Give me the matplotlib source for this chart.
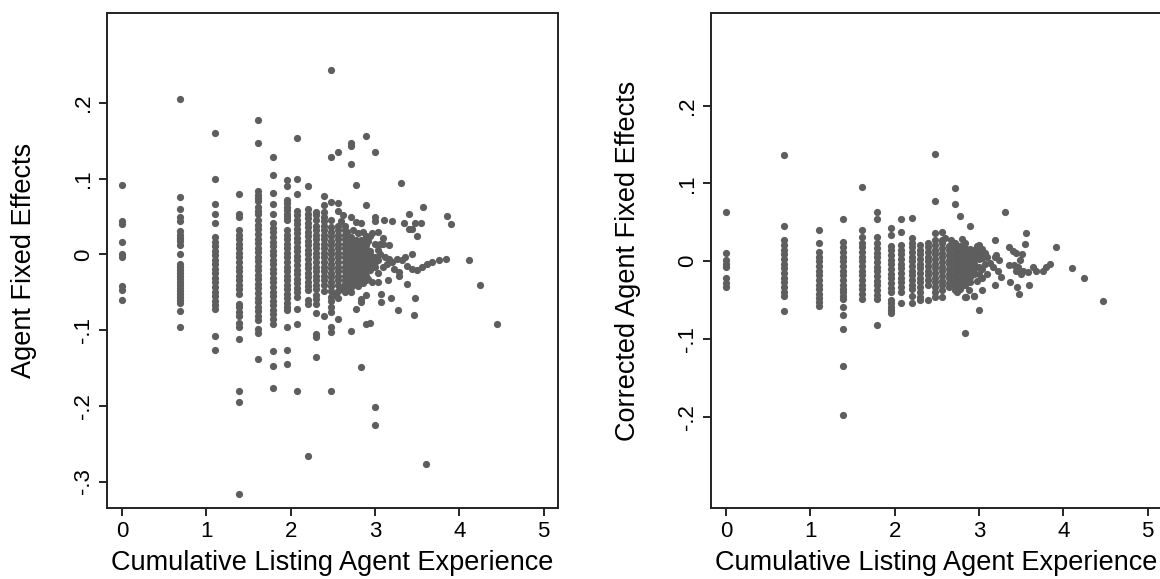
import matplotlib
matplotlib.use("Agg")
import matplotlib.pyplot as plt

plt.rcParams["font.family"] = ["Liberation Sans", "DejaVu Sans"]

# log cumulative listings for the agent columns (1, 2, 3, ... 20 listings)
experience = [0.00, 0.69, 1.10, 1.39, 1.61, 1.79, 1.95, 2.08, 2.20, 2.30,
              2.40, 2.48, 2.56, 2.64, 2.71, 2.77, 2.83, 2.89, 2.94, 3.00]

# agent fixed effects, one list per experience column
fixed_effects = [
    [0.092, 0.044, 0.040, 0.016, 0.000, -0.004, -0.042, -0.047, -0.060],
    [0.205, 0.076, 0.060, 0.049, 0.044, 0.031, 0.026, 0.022, 0.018, 0.012, 0.001, -0.012, -0.016,
     -0.020, -0.024, -0.028, -0.032, -0.036, -0.040, -0.044, -0.048, -0.052, -0.056, -0.060, -0.064,
     -0.075, -0.096],
    [0.161, 0.099, 0.067, 0.053, 0.041, 0.023, 0.017, 0.011, 0.005, -0.001, -0.007, -0.013, -0.019,
     -0.025, -0.031, -0.037, -0.043, -0.049, -0.055, -0.061, -0.067, -0.072, -0.108, -0.126],
    [0.080, 0.054, 0.049, 0.032, 0.026, 0.020, 0.014, 0.008, 0.002, -0.004, -0.010, -0.016, -0.022,
     -0.028, -0.034, -0.040, -0.046, -0.052, -0.065, -0.070, -0.076, -0.081, -0.090, -0.096, -0.112,
     -0.181, -0.195, -0.317],
    [0.177, 0.147, 0.084, 0.079, 0.075, 0.070, 0.063, 0.057, 0.053, 0.045, 0.039, 0.033, 0.027,
     0.021, 0.015, 0.009, 0.003, -0.003, -0.009, -0.015, -0.021, -0.027, -0.033, -0.039, -0.045,
     -0.051, -0.057, -0.063, -0.069, -0.075, -0.081, -0.087, -0.098, -0.104, -0.138],
    [0.129, 0.105, 0.081, 0.067, 0.053, 0.041, 0.035, 0.029, 0.023, 0.017, 0.011, 0.005, -0.001,
     -0.007, -0.013, -0.019, -0.025, -0.031, -0.037, -0.043, -0.049, -0.055, -0.061, -0.067, -0.073,
     -0.079, -0.085, -0.092, -0.128, -0.147, -0.177],
    [0.098, 0.091, 0.072, 0.068, 0.063, 0.059, 0.054, 0.049, 0.045, 0.032, 0.026, 0.020, 0.014,
     0.008, 0.002, -0.004, -0.010, -0.016, -0.022, -0.028, -0.034, -0.040, -0.046, -0.052, -0.058,
     -0.064, -0.070, -0.073, -0.096, -0.126, -0.145],
    [0.154, 0.099, 0.080, 0.058, 0.052, 0.046, 0.040, 0.034, 0.028, 0.022, 0.016, 0.010, 0.004,
     -0.002, -0.008, -0.014, -0.020, -0.026, -0.032, -0.038, -0.044, -0.050, -0.056, -0.072, -0.092,
     -0.181],
    [0.090, 0.060, 0.054, 0.048, 0.042, 0.036, 0.030, 0.024, 0.018, 0.012, 0.006, 0.000, -0.006,
     -0.012, -0.018, -0.024, -0.030, -0.036, -0.042, -0.047, -0.060, -0.066, -0.266],
    [0.056, 0.052, 0.045, 0.038, 0.032, 0.026, 0.020, 0.014, 0.008, 0.002, -0.004, -0.010, -0.016,
     -0.022, -0.028, -0.034, -0.040, -0.046, -0.053, -0.059, -0.066, -0.078, -0.105, -0.109, -0.135],
    [0.077, 0.065, 0.056, 0.050, 0.044, 0.038, 0.032, 0.026, 0.020, 0.014, 0.008, 0.002, -0.004,
     -0.010, -0.016, -0.022, -0.028, -0.034, -0.040, -0.048, -0.081],
    [0.243, 0.129, 0.069, 0.046, 0.036, 0.030, 0.024, 0.018, 0.012, 0.006, 0.000, -0.006, -0.012,
     -0.018, -0.024, -0.030, -0.036, -0.042, -0.048, -0.056, -0.061, -0.070, -0.076, -0.096, -0.102,
     -0.181],
    [0.135, 0.068, 0.057, 0.038, 0.032, 0.026, 0.020, 0.014, 0.008, 0.002, -0.004, -0.010, -0.016,
     -0.022, -0.028, -0.034, -0.040, -0.048, -0.058, -0.085],
    [0.038, 0.032, 0.026, 0.020, 0.014, 0.008, 0.002, -0.004, -0.010, -0.016, -0.022, -0.028, -0.034,
     -0.039, -0.050],
    [0.147, 0.143, 0.119, 0.049, 0.023, 0.017, 0.011, 0.005, -0.001, -0.007, -0.013, -0.019, -0.025,
     -0.031, -0.037, -0.043, -0.050, -0.101],
    [0.092, 0.043, 0.019, 0.013, 0.007, 0.001, -0.005, -0.011, -0.017, -0.023, -0.029, -0.034, -0.072],
    [0.041, 0.019, 0.013, 0.007, 0.001, -0.005, -0.011, -0.017, -0.023, -0.029, -0.034, -0.059,
     -0.063, -0.149],
    [0.156, 0.065, 0.025, 0.019, 0.013, 0.007, 0.001, -0.005, -0.011, -0.017, -0.023, -0.029, -0.034,
     -0.054, -0.092],
    [0.025, 0.005, 0.000, -0.005, -0.010, -0.015, -0.021, -0.090],
    [0.135, 0.049, 0.044, 0.014, -0.004, -0.010, -0.017, -0.202, -0.225],
]

# agents with more experience, (experience, fixed effect)
fe_scatter = [
    (2.60, 0.044), (2.67, 0.030), (2.74, 0.032), (2.80, 0.028), (2.86, 0.030), (2.92, 0.018),
    (2.97, 0.028), (2.60, -0.044), (2.67, -0.046), (2.74, -0.040), (2.80, -0.042), (2.86, -0.038),
    (2.92, -0.032), (2.97, -0.036), (2.52, -0.052), (2.62, 0.052),
    (3.04, 0.030), (3.04, 0.006), (3.04, -0.008), (3.04, -0.024), (3.04, -0.037), (3.06, 0.014),
    (3.06, 0.001), (3.07, -0.052), (3.07, -0.063), (3.09, 0.022), (3.09, -0.016), (3.10, 0.014),
    (3.11, 0.045), (3.12, -0.004), (3.14, -0.012), (3.15, -0.034), (3.17, 0.012), (3.17, -0.006),
    (3.19, -0.057), (3.20, -0.010), (3.20, 0.044), (3.22, -0.019), (3.26, -0.006), (3.27, -0.073),
    (3.28, -0.023), (3.28, -0.028), (3.31, 0.094), (3.32, -0.008), (3.34, 0.041), (3.36, -0.004),
    (3.38, -0.015), (3.38, -0.039), (3.40, 0.053), (3.40, 0.033), (3.44, 0.001), (3.44, 0.033),
    (3.44, -0.019), (3.46, -0.080), (3.48, 0.041), (3.48, -0.057), (3.50, -0.020), (3.50, 0.025),
    (3.54, 0.041), (3.56, -0.017), (3.57, 0.063), (3.60, -0.277), (3.62, -0.012), (3.68, -0.010),
    (3.76, -0.008), (3.84, -0.006), (3.85, 0.051), (3.90, 0.040), (4.11, -0.007), (4.25, -0.041),
    (4.45, -0.092),
]

# corrected (shrunk) fixed effects, same experience columns
corrected_effects = [
    [0.063, 0.011, 0.001, -0.003, -0.007, -0.022, -0.028, -0.033],
    [0.136, 0.045, 0.027, 0.021, 0.015, 0.009, 0.003, -0.003, -0.009, -0.015, -0.021, -0.027, -0.033,
     -0.039, -0.044, -0.064],
    [0.040, 0.023, 0.012, 0.006, 0.000, -0.006, -0.012, -0.018, -0.024, -0.030, -0.036, -0.042,
     -0.047, -0.052, -0.057],
    [0.054, 0.025, 0.018, 0.012, 0.006, 0.000, -0.006, -0.012, -0.018, -0.024, -0.030, -0.036,
     -0.040, -0.044, -0.048, -0.059, -0.069, -0.087, -0.134, -0.198],
    [0.096, 0.040, 0.031, 0.024, 0.018, 0.012, 0.006, 0.000, -0.006, -0.012, -0.018, -0.024, -0.030,
     -0.036, -0.042, -0.049],
    [0.063, 0.054, 0.031, 0.023, 0.017, 0.011, 0.005, -0.001, -0.007, -0.013, -0.019, -0.025, -0.031,
     -0.037, -0.043, -0.049, -0.082],
    [0.043, 0.034, 0.020, 0.014, 0.008, 0.002, -0.004, -0.010, -0.016, -0.022, -0.028, -0.034,
     -0.040, -0.050, -0.054, -0.059, -0.063, -0.067],
    [0.054, 0.037, 0.021, 0.015, 0.009, 0.003, -0.003, -0.009, -0.015, -0.021, -0.027, -0.033,
     -0.040, -0.054],
    [0.056, 0.030, 0.024, 0.018, 0.012, 0.006, 0.000, -0.006, -0.012, -0.018, -0.024, -0.030, -0.036,
     -0.044, -0.053],
    [0.021, 0.015, 0.009, 0.003, -0.003, -0.009, -0.015, -0.021, -0.027, -0.033, -0.040, -0.046,
     -0.050],
    [0.024, 0.018, 0.012, 0.006, 0.000, -0.006, -0.012, -0.018, -0.024, -0.031, -0.050],
    [0.138, 0.078, 0.036, 0.027, 0.021, 0.015, 0.009, 0.003, -0.003, -0.009, -0.015, -0.021, -0.027,
     -0.033, -0.039, -0.046],
    [0.038, 0.027, 0.023, 0.017, 0.011, 0.005, -0.001, -0.007, -0.013, -0.019, -0.025, -0.031,
     -0.037, -0.046],
    [0.020, 0.014, 0.008, 0.002, -0.004, -0.010, -0.016, -0.022, -0.028, -0.033],
    [0.094, 0.074, 0.023, 0.017, 0.011, 0.005, -0.001, -0.007, -0.013, -0.019, -0.025, -0.031, -0.037],
    [0.058, 0.020, 0.014, 0.008, 0.002, -0.004, -0.010, -0.016, -0.022, -0.028, -0.035],
    [0.023, 0.017, 0.011, 0.005, -0.001, -0.007, -0.013, -0.019, -0.025, -0.031, -0.046, -0.092],
    [0.045, 0.016, 0.010, 0.004, -0.002, -0.008, -0.014, -0.020, -0.026],
    [0.014, 0.008, 0.002, -0.004, -0.010, -0.016, -0.044],
    [0.021, 0.011, 0.003, -0.007, -0.016, -0.062],
]

cfe_scatter = [
    (2.60, 0.030), (2.67, 0.027), (2.74, -0.040), (2.80, 0.028), (2.84, -0.046), (2.88, -0.037),
    (2.94, -0.044), (2.76, -0.035), (2.82, -0.031), (2.97, 0.020), (2.97, -0.025), (2.93, 0.013),
    (3.04, -0.037), (3.04, 0.016), (3.04, 0.004), (3.04, -0.010), (3.04, -0.022), (3.07, 0.010),
    (3.07, -0.004), (3.10, 0.006), (3.10, -0.016), (3.13, -0.002), (3.16, -0.007), (3.19, 0.027),
    (3.19, 0.006), (3.19, -0.031), (3.20, 0.008), (3.22, -0.012), (3.24, 0.001), (3.26, -0.020),
    (3.31, 0.063), (3.35, 0.018), (3.35, -0.005), (3.37, -0.027), (3.40, 0.013), (3.42, -0.005),
    (3.44, 0.010), (3.44, -0.012), (3.45, -0.033), (3.46, -0.007), (3.47, -0.042), (3.48, 0.001),
    (3.50, -0.016), (3.51, 0.009), (3.52, -0.012), (3.54, 0.022), (3.56, 0.036), (3.58, -0.014),
    (3.59, -0.031), (3.64, -0.007), (3.68, -0.012), (3.76, -0.012), (3.80, -0.007), (3.84, -0.003),
    (3.91, 0.018), (4.10, -0.009), (4.24, -0.022), (4.47, -0.051),
]

x_ticks = [0, 1, 2, 3, 4, 5]
fe_ticks = [0.2, 0.1, 0.0, -0.1, -0.2, -0.3]
fe_labels = [".2", ".1", "0", "-.1", "-.2", "-.3"]
cfe_ticks = [0.2, 0.1, 0.0, -0.1, -0.2]
cfe_labels = [".2", ".1", "0", "-.1", "-.2"]

DOT = "#5e5e5e"


def flatten(columns, extra):
    xs, ys = [], []
    for x, col in zip(experience, columns):
        xs += [x] * len(col)
        ys += col
    for x, y in extra:
        xs.append(x)
        ys.append(y)
    return xs, ys


def draw_panel(ax, columns, extra, yticks, ylabels, ylim, ylabel):
    xs, ys = flatten(columns, extra)
    ax.scatter(xs, ys, s=27, color=DOT, linewidths=0, zorder=3)
    ax.set_xlim(-0.18, 5.17)
    ax.set_ylim(*ylim)
    ax.set_xticks(x_ticks)
    ax.set_xticklabels([str(t) for t in x_ticks])
    ax.set_yticks(yticks)
    ax.set_yticklabels(ylabels, rotation=90, va="center")
    ax.tick_params(direction="out", length=6, width=1.2, labelsize=16, pad=3)
    for sp in ax.spines.values():
        sp.set_linewidth(1.4)
        sp.set_color("#222222")
    ax.set_xlabel("Cumulative Listing Agent Experience", fontsize=19.5, labelpad=6)
    ax.set_ylabel(ylabel, fontsize=19.5, labelpad=26)


fig = plt.figure(figsize=(11.6, 5.79), dpi=100)
ax1 = fig.add_axes([0.0922, 0.1226, 0.3888, 0.855])
ax2 = fig.add_axes([0.6129, 0.1226, 0.3888, 0.855])

draw_panel(ax1, fixed_effects, fe_scatter, fe_ticks, fe_labels, (-0.335, 0.319),
           "Agent Fixed Effects")
draw_panel(ax2, corrected_effects, cfe_scatter, cfe_ticks, cfe_labels, (-0.317, 0.319),
           "Corrected Agent Fixed Effects")

fig.savefig("out.png", dpi=100)
